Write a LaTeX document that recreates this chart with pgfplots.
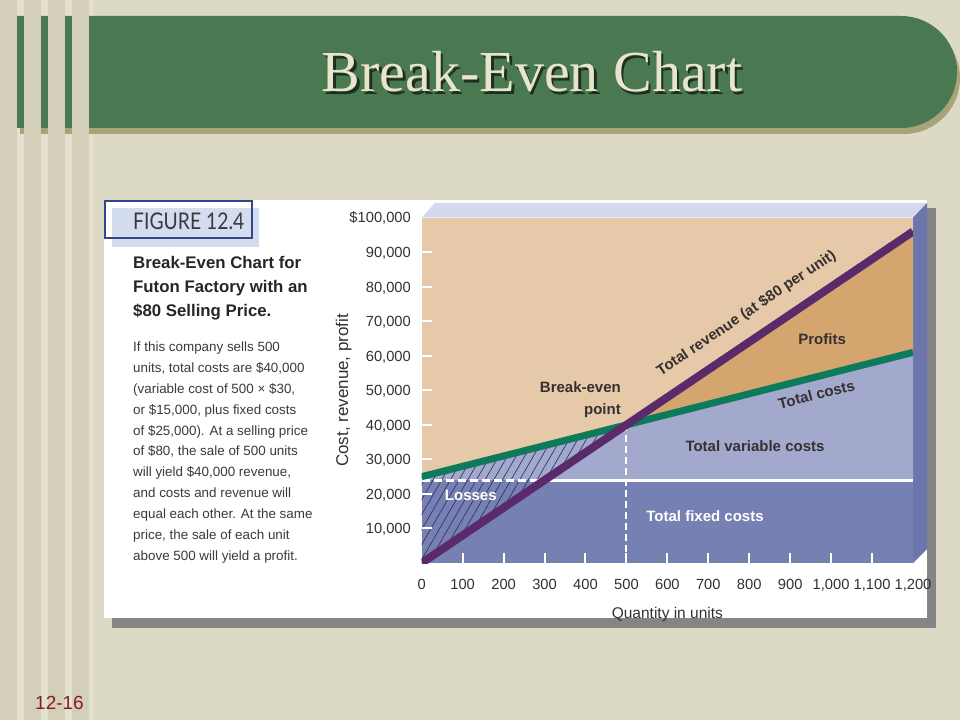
\documentclass[border=0pt]{standalone}
\usepackage{fontspec}
\setmainfont{Liberation Sans}
\newfontfamily\seriffont{Liberation Serif}
\newfontfamily\figfont{Lato}
\usepackage{graphicx}
\usepackage{pgfplots}
\pgfplotsset{compat=1.18}
\usetikzlibrary{patterns.meta}

\definecolor{slidebg}{HTML}{DCD9C4}
\definecolor{stripedark}{HTML}{D3CFB9}
\definecolor{stripelight}{HTML}{E4E1CE}
\definecolor{titlegreen}{HTML}{4A7850}
\definecolor{titleshadow}{HTML}{A7A47A}
\definecolor{titletext}{HTML}{E8E5CD}
\definecolor{titledrop}{HTML}{1F2E22}
\definecolor{panelshadow}{HTML}{858585}
\definecolor{figblue}{HTML}{D4DCEF}
\definecolor{figborder}{HTML}{34468A}
\definecolor{bodytext}{HTML}{3A3A3A}
\definecolor{tanbg}{HTML}{E5C9A9}
\definecolor{profit}{HTML}{D5A570}
\definecolor{varcost}{HTML}{A2A9CD}
\definecolor{fixcost}{HTML}{7780B3}
\definecolor{sideblue}{HTML}{6C76AD}
\definecolor{topface}{HTML}{D6D9EC}
\definecolor{revline}{HTML}{5A2A6B}
\definecolor{costline}{HTML}{0D7A5C}
\definecolor{hatch}{HTML}{30366A}
\definecolor{labeldark}{HTML}{363030}
\definecolor{slidenum}{HTML}{8B1C1C}

\newcommand\lblfont{\fontsize{15}{18}\selectfont\bfseries}
\newcommand\tickfont{\fontsize{14.7}{17}\selectfont}
\protected\def\toplabel{\$100,000}

\begin{document}
\begin{tikzpicture}[x=1pt,y=1pt]
% slide background and stripes
\fill[slidebg] (0,0) rectangle (960,720);
\foreach \a/\b in {17/24,41/48,65/72,89/93} \fill[stripelight] (\a,0) rectangle (\b,720);
\fill[titleshadow] (20,586) -- (904,586) arc[start angle=-90,end angle=90,radius=56] -- (20,698) -- cycle;
\fill[titlegreen] (17,592) -- (901,592) arc[start angle=-90,end angle=90,radius=56] -- (17,704) -- cycle;
\foreach \a/\b in {0/17,24/41,48/65,72/89} \fill[stripedark] (\a,0) rectangle (\b,720);
\node[anchor=base, inner sep=0pt, font=\seriffont\fontsize{58}{64}\selectfont, text=titledrop] at (534.5,625.5) {Break-Even Chart};
\node[anchor=base, inner sep=0pt, font=\seriffont\fontsize{58}{64}\selectfont, text=titletext] at (532,628) {Break-Even Chart};
\node[anchor=base west, inner sep=0pt, font=\fontsize{19}{22}\selectfont, text=slidenum] at (35,11) {12-16};

% figure panel
\fill[panelshadow] (112,92) rectangle (936,512);
\fill[white] (104,102) rectangle (927,520);
\fill[figblue] (112,473) rectangle (259,512);
\draw[figborder, line width=1.5pt] (105,482) rectangle (252,519);
\node[anchor=base west, inner sep=0pt, text=bodytext] at (133,490)
  {\scalebox{0.84}[1]{\figfont\fontsize{23}{26}\selectfont FIGURE 12.4}};
\foreach \t [count=\i from 0] in {{Break-Even Chart for},{Futon Factory with an},{\$80 Selling Price.}}
  \node[anchor=base west, inner sep=0pt, text=black!85, font=\fontsize{16.8}{20}\selectfont\bfseries] at (133,451.5-24*\i) {\t};
\foreach \t [count=\i from 0] in {{If this company sells 500},{units, total costs are \$40,000},{(variable cost of 500 × \$30,},{or \$15,000, plus fixed costs},{of \$25,000). At a selling price},{of \$80, the sale of 500 units},{will yield \$40,000 revenue,},{and costs and revenue will},{equal each other. At the same},{price, the sale of each unit},{above 500 will yield a profit.}}
  \node[anchor=base west, inner sep=0pt, text=bodytext, font=\fontsize{13.4}{16}\selectfont] at (133,368.3-20.83*\i) {\t};

% 3D edges of the plot box
\fill[topface] (421.7,502.3) -- (435,517) -- (927,517) -- (913,502.3) -- cycle;
\fill[sideblue] (913,502.3) -- (927,517) -- (927,171) -- (913,157) -- cycle;

\begin{axis}[
  at={(421.7pt,157pt)}, anchor=south west,
  scale only axis, width=491.3pt, height=345.3pt,
  xmin=0, xmax=1200, ymin=0, ymax=100000,
  scaled x ticks=false, scaled y ticks=false,
  axis line style={draw=none},
  axis background/.style={fill=tanbg},
  axis on top,
  tick align=inside, major tick length=10pt,
  major tick style={white, line width=2pt},
  xtick pos=left, ytick pos=left,
  /pgf/number format/assume math mode=true,
  xtick={100,200,300,400,500,600,700,800,900,1000,1100},
  xticklabels={100,200,300,400,500,600,700,800,900,{1,000},{1,100}},
  extra x ticks={0,1200}, extra x tick labels={0,{1,200}},
  extra x tick style={major tick length=0pt},
  ytick={10000,20000,30000,40000,50000,60000,70000,80000,90000},
  yticklabels={{10,000},{20,000},{30,000},{40,000},{50,000},{60,000},{70,000},{80,000},{90,000}},
  extra y ticks={100000}, extra y tick labels={\toplabel},
  extra y tick style={major tick length=0pt},
  xticklabel style={font=\tickfont, text=labeldark, anchor=base, inner sep=0pt, yshift=-26pt},
  yticklabel style={font=\tickfont, text=labeldark, anchor=base east, inner sep=0pt, xshift=-10.7pt, yshift=-5.3pt},
  xlabel={Quantity in units},
  xlabel style={at={(axis description cs:0.5,0)}, anchor=base, inner sep=0pt, yshift=-55pt, font=\fontsize{15.5}{18}\selectfont, text=labeldark},
  ylabel={Cost, revenue, profit},
  ylabel style={at={(axis description cs:-0.15,0.5)}, anchor=base, inner sep=0pt, font=\fontsize{17}{20}\selectfont, text=labeldark},
]
\addplot[draw=none, fill=fixcost] coordinates {(0,0) (1200,0) (1200,24000) (0,24000)} -- cycle;
\addplot[draw=none, fill=varcost] coordinates {(0,24000) (1200,24000) (1200,61000) (0,25000)} -- cycle;
\addplot[draw=none, fill=profit] coordinates {(500,40000) (1200,61000) (1200,96000)} -- cycle;
\addplot[draw=none, pattern={Lines[angle=60,distance=7.5pt,line width=0.7pt]}, pattern color=hatch]
  coordinates {(0,0) (500,40000) (0,25000)} -- cycle;
% fixed cost line, dashed where it crosses the losses
\addplot[white, line width=3pt, dash pattern=on 8pt off 4pt] coordinates {(0,24000) (300,24000)};
\addplot[white, line width=3pt] coordinates {(300,24000) (1200,24000)};
% break-even drop line
\addplot[white, line width=2pt, dash pattern=on 7pt off 4pt] coordinates {(500,0) (500,40000)};
% total costs
\addplot[costline, line width=7pt] coordinates {(0,25000) (1200,61000)}
  node[pos=0.795, sloped, below=8pt, inner sep=0pt, font=\lblfont, text=labeldark] {Total costs};
% total revenue
\addplot[revline, line width=8pt] coordinates {(0,0) (1200,96000)}
  node[pos=0.69, sloped, above=14pt, inner sep=0pt, font=\lblfont, text=labeldark] {Total revenue (at \$80 per unit)};

\node[font=\lblfont, text=labeldark] at (axis cs:978,64870) {Profits};
\node[font=\lblfont, text=labeldark, anchor=base east, inner sep=0pt] at (axis cs:486.8,49520) {Break-even};
\node[font=\lblfont, text=labeldark, anchor=base east, inner sep=0pt] at (axis cs:486.8,43150) {point};
\node[font=\lblfont, text=labeldark] at (axis cs:814,33880) {Total variable costs};
\node[font=\lblfont, text=white] at (axis cs:692,13610) {Total fixed costs};
\node[font=\lblfont, text=white] at (axis cs:120,19700) {Losses};
\end{axis}
\pgfresetboundingbox
\path[use as bounding box] (0,0) rectangle (960,720);
\end{tikzpicture}
\end{document}
